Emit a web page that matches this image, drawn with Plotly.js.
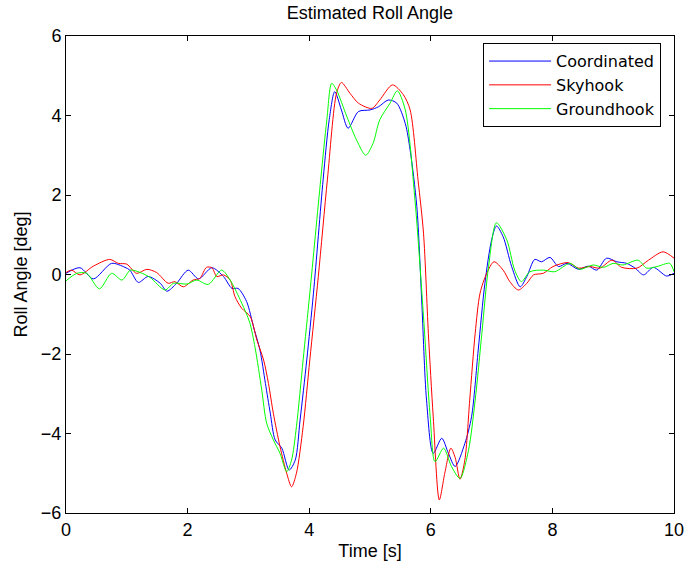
<!DOCTYPE html>
<html>
<head>
<meta charset="utf-8">
<script src="https://cdn.plot.ly/plotly-3.0.1.min.js"></script>
<style>html,body{margin:0;padding:0;background:#fff;}#chart{width:685px;height:565px;}</style>
</head>
<body>
<div id="chart"></div>
<script>
// Coordinated
const coordT = [0, 0.23, 0.45, 0.75, 0.97, 1.05, 1.19, 1.35, 1.55, 1.66, 1.82, 2.01, 2.18, 2.40, 2.59, 2.73, 2.83, 2.97, 3.09, 3.19, 3.28, 3.36, 3.44, 3.55, 3.67, 3.77, 3.85, 3.96, 4.07, 4.23, 4.33, 4.42, 4.53, 4.64, 4.81, 5.0, 5.14, 5.30, 5.44, 5.58, 5.66, 5.77, 5.85, 5.93, 6.04, 6.18, 6.29, 6.40, 6.56, 6.67, 6.78, 6.89, 7.0, 7.08, 7.19, 7.33, 7.47, 7.58, 7.71, 7.82, 7.96, 8.10, 8.24, 8.43, 8.59, 8.73, 8.89, 9.06, 9.22, 9.36, 9.50, 9.66, 9.88, 10.0];
const coordY = [0.03, 0.17, -0.11, 0.28, 0.18, 0.11, -0.2, -0.05, -0.22, -0.42, -0.22, 0.11, -0.11, 0.17, -0.05, -0.35, -0.35, -0.68, -1.35, -1.9, -2.74, -3.49, -4.16, -4.37, -4.92, -4.67, -3.66, -2.15, -0.47, 2.4, 3.9, 4.6, 4.14, 3.68, 4.10, 4.14, 4.22, 4.39, 4.31, 3.80, 3.13, 1.71, -0.64, -3.16, -4.5, -4.12, -4.5, -4.83, -4.25, -3.58, -1.9, -0.22, 0.87, 1.22, 0.95, 0.2, -0.31, -0.05, 0.38, 0.32, 0.43, 0.2, 0.28, 0.13, 0.21, 0.11, 0.41, 0.32, 0.28, 0.16, -0.01, 0.18, -0.04, 0.03];
// Skyhook
const skyT = [0, 0.09, 0.23, 0.45, 0.72, 0.86, 1.0, 1.16, 1.33, 1.49, 1.68, 1.79, 1.93, 2.09, 2.20, 2.31, 2.40, 2.48, 2.59, 2.70, 2.78, 2.89, 3.03, 3.14, 3.25, 3.33, 3.41, 3.52, 3.63, 3.71, 3.79, 3.90, 4.01, 4.15, 4.30, 4.45, 4.53, 4.67, 4.81, 5.03, 5.16, 5.37, 5.55, 5.66, 5.79, 5.88, 5.96, 6.04, 6.14, 6.23, 6.33, 6.40, 6.48, 6.56, 6.64, 6.73, 6.81, 6.92, 7.04, 7.19, 7.30, 7.44, 7.58, 7.69, 7.85, 8.01, 8.26, 8.43, 8.62, 8.78, 8.98, 9.14, 9.39, 9.58, 9.82, 10.0];
const skyY = [0.05, 0.11, -0.01, 0.21, 0.38, 0.28, 0.26, 0.03, 0.13, 0.05, -0.22, -0.18, -0.31, -0.14, -0.1, 0.18, 0.17, -0.05, -0.01, -0.14, -0.56, -0.85, -1.06, -1.65, -2.15, -2.74, -3.49, -4.33, -5.0, -5.34, -5.0, -3.83, -2.15, -0.05, 2.4, 4.56, 4.83, 4.56, 4.31, 4.18, 4.39, 4.77, 4.52, 4.14, 2.38, 1.04, -1.48, -3.58, -5.67, -5.0, -4.37, -4.6, -5.15, -4.67, -3.16, -1.48, -0.47, 0.03, 0.32, 0.11, -0.18, -0.39, -0.22, -0.01, 0.03, 0.2, 0.3, 0.16, 0.2, 0.16, 0.36, 0.18, 0.16, 0.36, 0.57, 0.41];
// Groundhook
const groundT = [0, 0.18, 0.34, 0.55, 0.75, 0.92, 1.06, 1.22, 1.38, 1.63, 1.77, 1.99, 2.15, 2.34, 2.56, 2.70, 2.89, 3.02, 3.11, 3.22, 3.30, 3.41, 3.52, 3.63, 3.71, 3.79, 3.90, 4.01, 4.19, 4.29, 4.37, 4.45, 4.62, 4.78, 4.93, 5.05, 5.16, 5.33, 5.45, 5.58, 5.74, 5.88, 5.99, 6.07, 6.21, 6.34, 6.48, 6.62, 6.73, 6.84, 6.95, 7.08, 7.25, 7.38, 7.49, 7.63, 7.85, 8.04, 8.29, 8.45, 8.67, 8.84, 9.0, 9.16, 9.41, 9.55, 9.72, 9.93, 10.0];
const groundY = [-0.16, 0.03, 0.03, -0.36, 0.03, -0.14, 0.11, 0.05, -0.07, -0.39, -0.22, -0.24, -0.14, -0.25, 0.11, -0.14, -0.72, -1.2, -1.84, -2.91, -3.74, -4.16, -4.5, -4.96, -4.67, -3.83, -2.15, -0.47, 2.4, 3.89, 4.81, 4.64, 3.97, 3.38, 3.0, 3.30, 3.89, 4.31, 4.62, 4.14, 1.87, -1.06, -3.58, -4.71, -4.37, -4.83, -5.13, -4.42, -3.16, -1.48, 0.2, 1.3, 0.87, 0.11, -0.18, 0.07, 0.11, 0.07, 0.28, 0.13, 0.24, 0.18, 0.28, 0.24, 0.36, 0.16, 0.2, 0.28, 0.07];

const seriesNames = ['Coordinated', 'Skyhook', 'Groundhook'];
const xTicks = [0, 2, 4, 6, 8, 10];
const yTicks = [-6, -4, -2, 0, 2, 4, 6];

const FONT = 'Liberation Sans, Arial, Helvetica, sans-serif';
const FS = 18;
const mk = (t, y, name, color) => ({
  x: t, y: y, name: name, type: 'scatter', mode: 'lines',
  line: {color: color, width: 1, shape: 'spline', smoothing: 0.8}
});
const data = [
  mk(coordT, coordY, seriesNames[0], '#0000ff'),
  mk(skyT, skyY, seriesNames[1], '#ff0000'),
  mk(groundT, groundY, seriesNames[2], '#00ff00')
];
const axisCommon = {
  showline: true, mirror: 'ticks', linecolor: '#000', linewidth: 1,
  ticks: 'inside', ticklen: 5, tickcolor: '#000', tickwidth: 1,
  showgrid: false, zeroline: false,
  tickfont: {family: FONT, size: FS, color: '#000'}
};
const layout = {
  width: 685, height: 565,
  margin: {l: 66, r: 11, t: 36, b: 52},
  paper_bgcolor: '#fff', plot_bgcolor: '#fff',
  font: {family: FONT, size: FS, color: '#000'},
  title: {text: 'Estimated Roll Angle', x: 0.54, xanchor: 'center', y: 0.978, yanchor: 'middle', yref: 'container',
          font: {family: FONT, size: FS, color: '#000'}},
  xaxis: Object.assign({}, axisCommon, {
    range: [0, 10], tickvals: xTicks,
    title: {text: 'Time [s]', font: {family: FONT, size: FS, color: '#000'}, standoff: 5}
  }),
  yaxis: Object.assign({}, axisCommon, {
    range: [-6, 6], tickvals: yTicks,
    title: {text: 'Roll Angle [deg]', font: {family: FONT, size: FS, color: '#000'}, standoff: 8}
  }),
  showlegend: true,
  legend: {
    x: 0.686, y: 0.985, xanchor: 'left', yanchor: 'top',
    bgcolor: '#fff', bordercolor: '#000', borderwidth: 1,
    font: {family: 'DejaVu Sans, sans-serif', size: 16, color: '#000'},
    itemwidth: 62, tracegroupgap: 0
  }
};
Plotly.newPlot('chart', data, layout, {displayModeBar: false, staticPlot: true});
</script>
</body>
</html>
